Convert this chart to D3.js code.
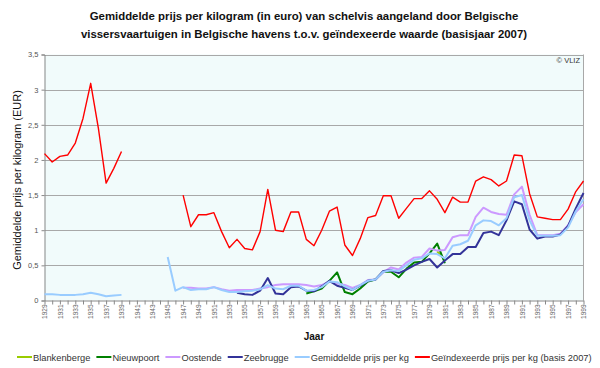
<!DOCTYPE html>
<html>
<head>
<meta charset="utf-8">
<script src="https://cdn.jsdelivr.net/npm/d3@7"></script>
<style>
  body { margin: 0; background: #fff; }
  svg { display: block; font-family: "Liberation Sans", Arial, sans-serif; }
</style>
</head>
<body>
<svg id="chart" width="600" height="368"></svg>
<script>
// categories
const years = d3.range(1929, 2000);
const yTicks = [0, 0.5, 1, 1.5, 2, 2.5, 3, 3.5];

// series (1929 .. 1999, null = no data)
const blankenberge = [
  null, null, null, null, null, null, null, null, null, null, null,
  null, null, null, null, null, null, null, null, null, null, null,
  null, null, null, null, null, null, null, null, null, null, null,
  null, null, null, null, null, null, null, null, null, null, null,
  null, null, null, null, null, null, null, 0.70, 0.58, null, null,
  null, null, null, null, null, null, null, null, null, null, null,
  null, null, null, null, null
];
const nieuwpoort = [
  null, null, null, null, null, null, null, null, null, null, null,
  null, null, null, null, null, null, null, null, null, null, null,
  null, null, null, null, null, null, null, null, null, null, null,
  null, 0.10, 0.13, 0.17, 0.28, 0.40, 0.12, 0.09, 0.17, 0.27, 0.30,
  0.41, 0.41, 0.33, 0.45, 0.54, 0.55, 0.67, 0.81, 0.53, null, null,
  null, null, null, null, null, null, null, null, null, null, null,
  null, null, null, null, null
];
const oostende = [
  null, null, null, null, null, null, null, null, null, null, null,
  null, null, null, null, null, null, null, 0.18, 0.18, 0.17, 0.17,
  0.19, 0.16, 0.14, 0.15, 0.15, 0.15, 0.17, 0.19, 0.22, 0.23, 0.23,
  0.23, 0.22, 0.20, 0.22, 0.27, 0.24, 0.22, 0.18, 0.22, 0.29, 0.30,
  0.40, 0.47, 0.44, 0.54, 0.61, 0.62, 0.74, 0.71, 0.72, 0.90, 0.93,
  0.93, 1.19, 1.32, 1.26, 1.23, 1.22, 1.51, 1.62, 1.22, 0.93, 0.93,
  0.93, 0.95, 1.07, 1.26, 1.37
];
const zeebrugge = [
  null, null, null, null, null, null, null, null, null, null, null,
  null, null, null, null, null, null, null, null, null, null, null,
  null, null, null, 0.11, 0.09, 0.08, 0.14, 0.32, 0.10, 0.09, 0.19,
  0.20, 0.14, 0.13, 0.20, 0.28, 0.21, 0.18, 0.15, 0.21, 0.28, 0.30,
  0.42, 0.43, 0.39, 0.44, 0.50, 0.55, 0.59, 0.47, 0.57, 0.66, 0.66,
  0.76, 0.76, 0.96, 0.98, 0.93, 1.14, 1.41, 1.37, 1.01, 0.88, 0.91,
  0.91, 0.94, 1.06, 1.31, 1.53
];
const gemiddelde = [
  0.09, 0.09, 0.08, 0.08, 0.08, 0.09, 0.11, 0.09, 0.06, 0.07, 0.08,
  null, null, null, null, null, 0.62, 0.14, 0.19, 0.15, 0.16, 0.16,
  0.19, 0.15, 0.12, 0.12, 0.13, 0.14, 0.16, 0.22, 0.17, 0.16, 0.21,
  0.21, 0.14, 0.15, 0.19, 0.27, 0.26, 0.20, 0.15, 0.22, 0.28, 0.30,
  0.41, 0.43, 0.42, 0.50, 0.58, 0.60, 0.67, 0.66, 0.60, 0.78, 0.80,
  0.85, 1.07, 1.14, 1.13, 1.07, 1.17, 1.47, 1.50, 1.14, 0.92, 0.92,
  0.92, 0.93, 1.04, 1.27, 1.44
];
const geindexeerd = [
  2.09, 1.97, 2.05, 2.07, 2.24, 2.59, 3.09, 2.45, 1.67, 1.88, 2.12,
  null, null, null, null, null, null, null, 1.50, 1.05, 1.22, 1.22,
  1.25, 0.98, 0.75, 0.87, 0.74, 0.72, 0.98, 1.58, 1.00, 0.98, 1.26,
  1.26, 0.87, 0.78, 1.00, 1.27, 1.33, 0.79, 0.64, 0.88, 1.18, 1.21,
  1.49, 1.49, 1.17, 1.31, 1.45, 1.45, 1.56, 1.44, 1.25, 1.47, 1.40,
  1.40, 1.70, 1.76, 1.72, 1.63, 1.70, 2.07, 2.06, 1.52, 1.19, 1.17,
  1.15, 1.15, 1.30, 1.55, 1.70
];

const seriesNames = ['Blankenberge', 'Nieuwpoort', 'Oostende', 'Zeebrugge',
  'Gemiddelde prijs per kg', 'Geïndexeerde prijs per kg (basis 2007)'];
const seriesValues = [blankenberge, nieuwpoort, oostende, zeebrugge, gemiddelde, geindexeerd];
const seriesColors = ['#99cc00', '#008000', '#cc99ff', '#333399', '#99ccff', '#ff0000'];
const seriesWidths = [2, 2, 2, 2, 2, 1.4];

const margins = { top: 54.5, right: 16.5, bottom: 67.5, left: 44.5 };
const canvasWidth = 600;
const canvasHeight = 368;

const svg = d3.select('#chart');

// scales
const scaleX = d3.scalePoint()
  .domain(years)
  .range([margins.left, canvasWidth - margins.right]);
const scaleY = d3.scaleLinear()
  .domain([0, 3.5])
  .range([canvasHeight - margins.bottom, margins.top]);

// plot background
svg.append('rect')
  .attr('x', margins.left)
  .attr('y', margins.top)
  .attr('width', canvasWidth - margins.right - margins.left)
  .attr('height', canvasHeight - margins.bottom - margins.top)
  .attr('fill', '#f1fbfb');

// gridlines
svg.append('g')
  .selectAll('line')
  .data(yTicks.filter(d => d > 0))
  .enter()
  .append('line')
    .attr('x1', margins.left)
    .attr('x2', canvasWidth - margins.right)
    .attr('y1', d => Math.round(scaleY(d)) + 0.5)
    .attr('y2', d => Math.round(scaleY(d)) + 0.5)
    .attr('stroke', '#a8a8a8')
    .attr('stroke-width', 1);

// right border
svg.append('line')
  .attr('x1', canvasWidth - margins.right)
  .attr('x2', canvasWidth - margins.right)
  .attr('y1', margins.top)
  .attr('y2', canvasHeight - margins.bottom)
  .attr('stroke', '#a8a8a8');

// y axis
const fmt = d => String(d).replace('.', ',');
const axisY = svg.append('g')
  .attr('transform', `translate(${margins.left}, 0)`)
  .call(d3.axisLeft(scaleY).tickValues(yTicks).tickFormat(fmt).tickSize(3).tickPadding(3));
axisY.select('.domain').attr('stroke', '#888');
axisY.selectAll('.tick line').attr('stroke', '#888');
axisY.selectAll('text')
  .attr('fill', '#555')
  .style('font-size', '7.5px')
  .style('font-family', '"Liberation Sans", Arial, sans-serif');

// x axis
const axisX = svg.append('g')
  .attr('transform', `translate(0, ${canvasHeight - margins.bottom})`)
  .call(d3.axisBottom(scaleX)
    .tickFormat(d => (d % 2 === 1 ? String(d) : ''))
    .tickSize(4)
    .tickSizeOuter(0));
axisX.select('.domain').attr('stroke', '#888');
axisX.selectAll('.tick line').attr('stroke', '#888');
axisX.selectAll('text')
  .attr('transform', 'rotate(-90)')
  .attr('x', -4)
  .attr('y', 0)
  .attr('dy', '0.35em')
  .attr('fill', '#666')
  .style('text-anchor', 'end')
  .style('font-size', '6.5px')
  .style('font-family', '"Liberation Sans", Arial, sans-serif');

// lines
const line = d3.line()
  .defined(d => d.v != null)
  .x(d => scaleX(d.year))
  .y(d => scaleY(d.v));

svg.append('g')
  .selectAll('path')
  .data(seriesValues)
  .enter()
  .append('path')
    .attr('fill', 'none')
    .attr('stroke', (d, i) => seriesColors[i])
    .attr('stroke-width', (d, i) => seriesWidths[i])
    .attr('stroke-linejoin', 'round')
    .attr('d', vals => line(vals.map((v, j) => ({ year: years[j], v }))));

// title
svg.append('text')
  .attr('x', 304)
  .attr('text-anchor', 'middle')
  .attr('font-weight', 'bold')
  .attr('font-size', 11.4)
  .attr('fill', '#111')
  .selectAll('tspan')
  .data(['Gemiddelde prijs per kilogram (in euro) van schelvis aangeland door Belgische',
    'vissersvaartuigen in Belgische havens t.o.v. geïndexeerde waarde (basisjaar 2007)'])
  .enter()
  .append('tspan')
    .attr('x', 304)
    .attr('y', (d, i) => 20 + i * 18)
    .text(d => d);

// copyright
svg.append('text')
  .attr('x', 580)
  .attr('y', 63)
  .attr('text-anchor', 'end')
  .attr('font-size', 7.5)
  .attr('fill', '#333')
  .text('© VLIZ');

// axis labels
svg.append('text')
  .attr('transform', 'translate(21, 180) rotate(-90)')
  .attr('text-anchor', 'middle')
  .attr('font-size', 11)
  .attr('fill', '#111')
  .text('Gemiddelde prijs per kilogram (EUR)');

svg.append('text')
  .attr('x', 314)
  .attr('y', 340)
  .attr('text-anchor', 'middle')
  .attr('font-weight', 'bold')
  .attr('font-size', 10)
  .attr('fill', '#111')
  .text('Jaar');

// legend
const legend = svg.append('g').attr('font-size', 9.3).attr('fill', '#333');
let lx = 17;
seriesNames.forEach((name, i) => {
  legend.append('line')
    .attr('x1', lx)
    .attr('x2', lx + 15)
    .attr('y1', 357)
    .attr('y2', 357)
    .attr('stroke', seriesColors[i])
    .attr('stroke-width', 2);
  const t = legend.append('text')
    .attr('x', lx + 16)
    .attr('y', 360.5)
    .text(name);
  lx += 16 + t.node().getComputedTextLength() + 6;
});
</script>
</body>
</html>
